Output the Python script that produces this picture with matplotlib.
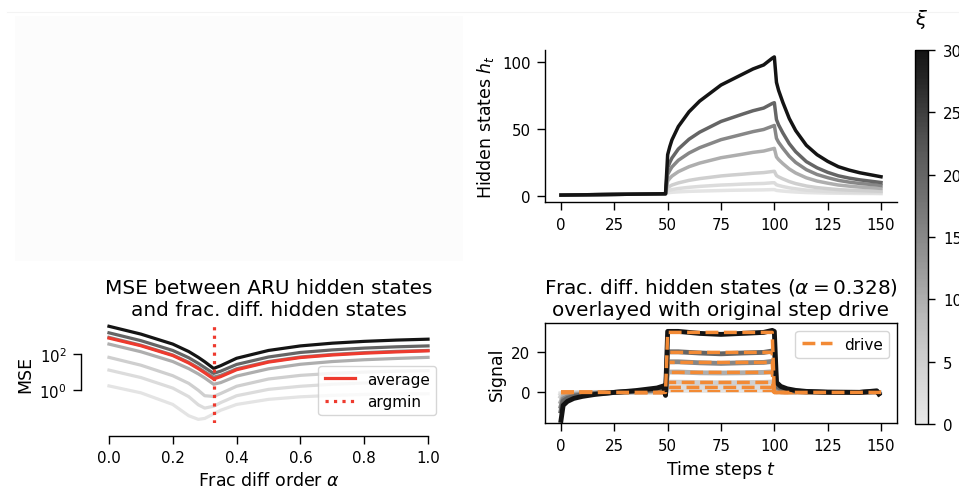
import numpy as np
import matplotlib
matplotlib.use('Agg')
import matplotlib.pyplot as plt
from matplotlib.colors import ListedColormap, Normalize
from matplotlib.cm import ScalarMappable
from matplotlib.lines import Line2D

plt.rcParams['font.family'] = ['DejaVu Sans']
plt.rcParams['xtick.labelsize'] = 10.8
plt.rcParams['ytick.labelsize'] = 10.8
plt.rcParams['axes.labelsize'] = 12.5
plt.rcParams['axes.titlesize'] = 14.4
plt.rcParams['legend.fontsize'] = 11
plt.rcParams['axes.linewidth'] = 1.0
plt.rcParams['xtick.major.size'] = 5.5
plt.rcParams['ytick.major.size'] = 5.5
plt.rcParams['xtick.major.pad'] = 5
plt.rcParams['ytick.major.pad'] = 5
plt.rcParams['xtick.major.width'] = 1.0
plt.rcParams['ytick.major.width'] = 1.0

# memory scales, one curve each
xis = [1, 2.5, 5, 10, 15, 20, 30]

# ---- hidden states h_t (top right)
t_h = [0, 49, 50, 51, 52, 55, 60, 65, 70, 75, 80, 85, 90, 95, 99, 100,
       101, 102, 104, 107, 110, 115, 120, 125, 130, 135, 140, 145, 150]
h_1 = [0.8, 1.8, 2.5, 2.7, 2.9, 3.2, 3.6, 3.8, 4.0, 4.2, 4.4, 4.5, 4.6, 4.7, 4.9, 4.9,
       4.3, 4.1, 3.8, 3.4, 3.1, 2.7, 2.5, 2.3, 2.2, 2.1, 2.0, 2.0, 1.9]
h_2p5 = [0.8, 1.8, 4.0, 4.5, 4.9, 5.7, 6.6, 7.3, 7.8, 8.3, 8.6, 9.0, 9.3, 9.5, 10.0, 10.0,
         8.5, 8.0, 7.2, 6.2, 5.5, 4.5, 4.0, 3.5, 3.2, 3.0, 2.8, 2.7, 2.6]
h_5 = [0.8, 1.8, 6.4, 7.4, 8.3, 9.9, 11.8, 13.1, 14.1, 15.1, 15.8, 16.4, 17.1, 17.6, 18.4, 18.6,
       15.4, 14.4, 12.9, 10.9, 9.4, 7.6, 6.4, 5.6, 4.9, 4.5, 4.2, 3.9, 3.7]
h_10 = [0.8, 1.8, 11.3, 13.3, 15.0, 18.3, 22.0, 24.7, 26.7, 28.7, 30.0, 31.3, 32.7, 33.7, 35.3, 35.7,
        29.3, 27.3, 24.3, 20.3, 17.3, 13.7, 11.3, 9.7, 8.3, 7.5, 6.8, 6.3, 5.8]
h_15 = [0.8, 1.8, 16.2, 19.2, 21.8, 26.8, 32.2, 36.2, 39.2, 42.2, 44.2, 46.2, 48.2, 49.8, 52.2, 52.8,
        43.2, 40.2, 35.8, 29.8, 25.2, 19.8, 16.2, 13.8, 11.8, 10.5, 9.5, 8.8, 8.0]
h_20 = [0.8, 1.8, 21.2, 25.2, 28.5, 35.2, 42.5, 47.8, 51.8, 55.8, 58.5, 61.2, 63.8, 65.8, 69.2, 69.8,
        57.2, 53.2, 47.2, 39.2, 33.2, 25.8, 21.2, 17.8, 15.2, 13.5, 12.2, 11.2, 10.2]
h_30 = [0.8, 1.8, 31, 37, 42, 52, 63, 71, 77, 83, 87, 91, 95, 98, 103, 104,
        85, 79, 70, 58, 49, 38, 31, 26, 22, 19.5, 17.5, 16, 14.5]
hidden = [h_1, h_2p5, h_5, h_10, h_15, h_20, h_30]

# ---- MSE vs frac diff order (bottom left), log10 of MSE
alpha_grid = [0, 0.1, 0.2, 0.25, 0.28, 0.3, 0.328, 0.35, 0.4, 0.5, 0.6, 0.7, 0.8, 0.9, 1.0]
logmse_1 = [0.24, -0.14, -0.78, -1.40, -1.60, -1.55, -1.30, -1.10, -0.78, -0.50, -0.36, -0.28, -0.23, -0.20, -0.19]
logmse_2p5 = [1.11, 0.70, 0.12, -0.35, -0.80, -0.98, -0.88, -0.68, -0.30, 0.05, 0.22, 0.33, 0.40, 0.45, 0.48]
logmse_5 = [1.81, 1.38, 0.80, 0.38, 0.00, -0.30, -0.34, -0.18, 0.22, 0.62, 0.82, 0.93, 1.00, 1.05, 1.08]
logmse_10 = [2.54, 2.12, 1.58, 1.19, 0.90, 0.68, 0.33, 0.42, 0.78, 1.18, 1.43, 1.58, 1.68, 1.75, 1.81]
logmse_15 = [2.91, 2.48, 1.94, 1.54, 1.24, 1.02, 0.72, 0.82, 1.18, 1.58, 1.83, 1.97, 2.07, 2.14, 2.19]
logmse_20 = [3.16, 2.73, 2.19, 1.79, 1.48, 1.25, 0.93, 1.05, 1.42, 1.83, 2.08, 2.22, 2.32, 2.39, 2.44]
logmse_30 = [3.52, 3.09, 2.54, 2.13, 1.81, 1.57, 1.20, 1.35, 1.76, 2.19, 2.44, 2.59, 2.69, 2.76, 2.81]
logmse_avg = [2.87, 2.45, 1.91, 1.50, 1.19, 0.96, 0.62, 0.75, 1.13, 1.55, 1.80, 1.94, 2.04, 2.11, 2.17]
logmse = [logmse_1, logmse_2p5, logmse_5, logmse_10, logmse_15, logmse_20, logmse_30]
alpha_best = 0.328

# ---- frac diff signals (bottom right)
t_s = [0, 1, 3, 6, 10, 16, 25, 35, 45, 48, 49, 50, 55, 65, 75, 85, 95, 99, 100,
       101, 103, 106, 110, 115, 125, 140, 148, 149]
s_1 = [-0.5, -0.2, -0.2, -0.1, -0.1, 0, 0, 0, 0.1, 0.1, 0, 1, 1, 1, 1, 1, 1, 1, 1,
       0.2, 0.1, 0.1, 0, 0, 0, 0, 0, 0]
s_2p5 = [-1.2, -0.5, -0.4, -0.3, -0.2, -0.1, 0, 0.1, 0.2, 0.3, -0.1, 2.5, 2.5, 2.5, 2.4, 2.5, 2.5, 2.6, 2.5,
         0.4, 0.3, 0.2, 0.1, 0, 0, 0, 0.1, 0]
s_5 = [-2.3, -1.1, -0.8, -0.5, -0.3, -0.2, 0, 0.2, 0.4, 0.5, -0.3, 5.1, 5.1, 4.9, 4.8, 4.9, 5, 5.2, 5.1,
       0.8, 0.5, 0.3, 0.2, 0.1, 0, 0, 0.1, -0.1]
s_10 = [-4.7, -2.2, -1.5, -1, -0.7, -0.3, 0, 0.3, 0.7, 1.1, -0.5, 10.2, 10.2, 9.8, 9.7, 9.8, 10, 10.3, 10.2,
        1.7, 1, 0.6, 0.3, 0.2, 0, 0, 0.3, -0.3]
s_15 = [-7, -3.3, -2.3, -1.5, -1, -0.5, 0, 0.5, 1.1, 1.6, -0.8, 15.3, 15.3, 14.8, 14.5, 14.8, 15, 15.5, 15.3,
        2.5, 1.5, 0.9, 0.5, 0.3, 0, 0, 0.4, -0.4]
s_20 = [-9.3, -4.3, -3, -2, -1.3, -0.7, 0, 0.6, 1.5, 2.1, -1, 20.3, 20.3, 19.7, 19.3, 19.7, 20, 20.7, 20.3,
        3.3, 2, 1.2, 0.7, 0.3, 0.1, 0, 0.5, -0.5]
s_30 = [-14, -6.5, -4.5, -3, -2, -1, 0, 0.9, 2.2, 3.2, -1.5, 30.5, 30.5, 29.5, 29, 29.5, 30, 31, 30.5,
        5, 3, 1.8, 1, 0.5, 0.1, 0, 0.8, -0.8]
signals = [s_1, s_2p5, s_5, s_10, s_15, s_20, s_30]

# step drive: on between t=50 and t=100, amplitude xi
drive_t = [0, 49, 50, 99, 100, 150]
drive_on = [0, 0, 1, 1, 0, 0]

cmap = ListedColormap(plt.cm.Greys(np.linspace(0.17, 0.93, 256)))
norm = Normalize(0, 30)
red = '#ee3a2e'
orange = '#f28a35'

fig = plt.figure(figsize=(9.59, 4.89), dpi=100)
W, H = 959.0, 489.0

def px_axes(x0, y0, x1, y1):
    return fig.add_axes([x0 / W, 1 - y1 / H, (x1 - x0) / W, (y1 - y0) / H])

# faint empty panel top left
fig.add_artist(Line2D([7 / W, 1], [1 - 13 / H, 1 - 13 / H], color='#f3f3f3', lw=0.8))
ax0 = px_axes(15, 17, 463, 262)
ax0.set_facecolor('#fcfcfc')
ax0.set_xticks([])
ax0.set_yticks([])
for s in ax0.spines.values():
    s.set_visible(False)

# top right: hidden states
ax1 = px_axes(545, 51, 897, 203)
for xi, h in zip(xis, hidden):
    ax1.plot(t_h, h, color=cmap(norm(xi)), lw=2.5)
ax1.set_ylabel('Hidden states $h_t$')
ax1.set_xticks([0, 25, 50, 75, 100, 125, 150])
ax1.set_yticks([0, 50, 100])
ax1.spines['top'].set_visible(False)
ax1.spines['right'].set_visible(False)

# bottom left: MSE
ax2 = px_axes(93, 324, 444, 424)
for xi, m in zip(xis, logmse):
    ax2.plot(alpha_grid, 10 ** np.array(m), color=cmap(norm(xi)), lw=2.3)
ax2.plot(alpha_grid, 10 ** np.array(logmse_avg), color=red, lw=2.3, label='average')
ax2.axvline(alpha_best, color=red, ls=':', lw=2.3, label='argmin')
ax2.set_yscale('log')
ax2.set_ylim(10 ** -1.8, 10 ** 3.7)
ax2.set_xlim(-0.05, 1.05)
ax2.set_yticks([1, 100])
ax2.yaxis.set_minor_locator(matplotlib.ticker.NullLocator())
ax2.set_xticks([0, 0.2, 0.4, 0.6, 0.8, 1.0])
ax2.set_xlabel(r'Frac diff order $\alpha$')
ax2.set_ylabel('MSE')
ax2.set_title('MSE between ARU hidden states\nand frac. diff. hidden states')
ax2.spines['top'].set_visible(False)
ax2.spines['right'].set_visible(False)
ax2.spines['left'].set_position(('outward', 8.5))
ax2.spines['bottom'].set_position(('outward', 9))
ax2.spines['left'].set_bounds(1, 100)
ax2.spines['bottom'].set_bounds(0, 1)
ax2.legend(loc='lower right')

# bottom right: frac diff signals with drive
ax3 = px_axes(545, 324, 897, 424)
for i, (xi, s) in enumerate(zip(xis, signals)):
    ax3.plot(t_s, s, color=cmap(norm(xi)), lw=3.5)
    ax3.plot(drive_t, np.array(drive_on) * xi, color=orange, ls='--', lw=2.5,
             label='drive' if i == 0 else None)
ax3.set_xlim(-7.5, 157.5)
ax3.set_ylim(-15.3, 34.7)
ax3.set_xticks([0, 25, 50, 75, 100, 125, 150])
ax3.set_yticks([0, 20])
ax3.set_xlabel('Time steps $t$')
ax3.set_ylabel('Signal')
ax3.set_title(r'Frac. diff. hidden states ($\alpha = 0.328$)' + '\noverlayed with original step drive')
ax3.legend(loc='upper right')

# colorbar (tick labels run off the right edge, as in the original crop)
cax = px_axes(915, 51, 928, 425)
cb = fig.colorbar(ScalarMappable(norm=norm, cmap=cmap), cax=cax)
cb.set_ticks([0, 5, 10, 15, 20, 25, 30])
cb.outline.set_linewidth(1.0)
cax.tick_params(length=5, pad=6)
cax.set_title(r'$\xi$', fontsize=14, pad=19)

fig.savefig('out.png', dpi=100)
